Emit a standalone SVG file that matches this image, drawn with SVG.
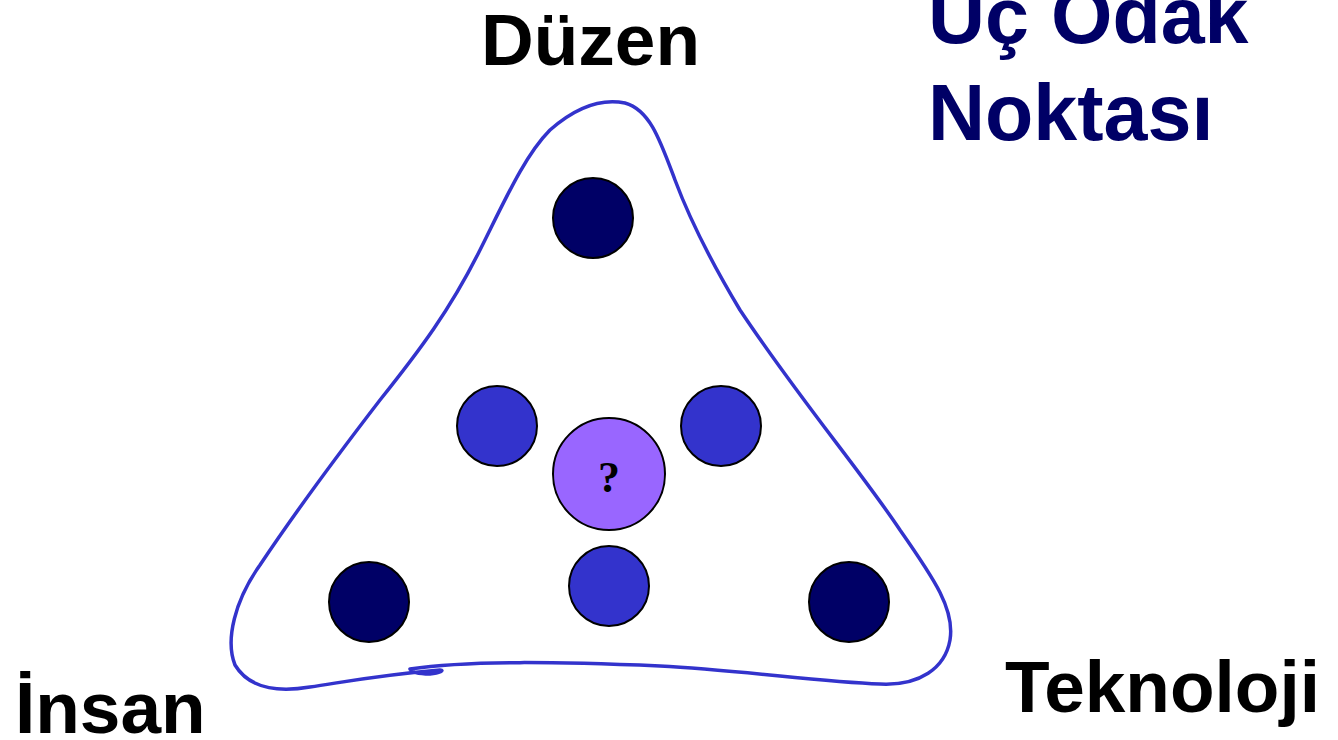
<svg xmlns="http://www.w3.org/2000/svg" width="1338" height="740" viewBox="0 0 1338 740">
<style>
.lbl{font-family:"Liberation Sans",Arial,sans-serif;font-weight:bold;font-size:73px;fill:#000}
.ttl{font-family:"Liberation Sans",Arial,sans-serif;font-weight:bold;font-size:79px;fill:#000066}
.dark{fill:#000066;stroke:#000;stroke-width:2}
.mid{fill:#3333CC;stroke:#000;stroke-width:2}
.ctr{fill:#9966FF;stroke:#000;stroke-width:2}
</style>
<rect width="1338" height="740" fill="#fff"/>
<g id="outline">
<path d="M410,669 C470,660 560,662 660,666 C740,670 820,682 880,684 C920,686 945,668 950,640 C955,610 935,580 900,530 C860,470 800,400 740,310 C710,260 690,220 675,180 C660,140 650,110 625,103 C600,98 575,108 550,130 C525,155 505,200 480,250 C450,310 420,350 380,400 C330,465 290,520 260,565 C235,600 225,640 235,665 C250,690 280,692 310,687 C350,681 380,675 440,670 C445,670 440,673 430,674 C420,674 412,673 410,669" fill="none" stroke="#3333CC" stroke-width="3.5" stroke-linecap="round"/>
</g>
<g id="node-top"><circle class="dark" cx="593" cy="218" r="40"/></g>
<g id="node-midleft"><circle class="mid" cx="497" cy="426" r="40"/></g>
<g id="node-midright"><circle class="mid" cx="721" cy="426" r="40"/></g>
<g id="node-center"><circle class="ctr" cx="609" cy="474" r="56"/><text x="609" y="492" text-anchor="middle" font-family="Liberation Serif,'Times New Roman',serif" font-weight="bold" font-size="44">?</text></g>
<g id="node-bottom"><circle class="mid" cx="609" cy="586" r="40"/></g>
<g id="node-botleft"><circle class="dark" cx="369" cy="602" r="40"/></g>
<g id="node-botright"><circle class="dark" cx="849" cy="602" r="40"/></g>
<g id="connectors"></g>
<g id="labels">
<text class="lbl" x="481" y="65">Düzen</text>
<text class="lbl" x="1005" y="712">Teknoloji</text>
<text class="lbl" x="15" y="733">İnsan</text>
<text class="ttl" x="928" y="43">Üç Odak</text>
<text class="ttl" x="928" y="140">Noktası</text>
</g>
</svg>
